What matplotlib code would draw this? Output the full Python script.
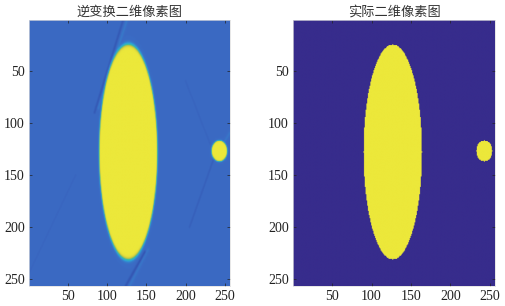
import numpy as np
import matplotlib
matplotlib.use("Agg")
import matplotlib.pyplot as plt
from matplotlib.colors import LinearSegmentedColormap

# phantom (pixel units, 256 x 256)
size = 256
ellipse_cx, ellipse_cy = 127, 128
ellipse_ax, ellipse_ay = 37, 103
circle_cx, circle_cy = 243, 127
circle_rx, circle_ry = 10, 10
obj_value = 1.0

# background levels
recon_bg = 0.16
true_bg = 0.0

# streak artifacts in the reconstruction: x0, y0, x1, y1, amplitude, width
streak_x0 = [121, 126, 124, 129, 236, 231, 248, 0]
streak_y0 = [0, 0, 256, 256, 134, 120, 120, 245]
streak_x1 = [84, 89, 148, 152, 205, 200, 256, 60]
streak_y1 = [90, 86, 224, 222, 200, 60, 110, 150]
streak_amp = [-0.04, 0.05, -0.05, 0.04, -0.025, -0.015, 0.04, -0.012]
streak_w = [1.5, 1.3, 1.5, 1.3, 1.3, 1.3, 1.3, 1.3]

titles = ["逆变换二维像素图", "实际二维像素图"]
ticks = [50, 100, 150, 200, 250]

# parula-like map, matched to the picture
cmap = LinearSegmentedColormap.from_list("parula_like", [
    (0.00, "#372c8c"),
    (0.08, "#2f4aa8"),
    (0.16, "#3b6bc4"),
    (0.35, "#2ba2d8"),
    (0.60, "#45be95"),
    (0.80, "#c5c143"),
    (1.00, "#ece83a"),
])

yy, xx = np.mgrid[1:size + 1, 1:size + 1].astype(float)


def shape(soft):
    r1 = np.sqrt(((xx - ellipse_cx) / ellipse_ax) ** 2 + ((yy - ellipse_cy) / ellipse_ay) ** 2)
    r2 = np.sqrt(((xx - circle_cx) / circle_rx) ** 2 + ((yy - circle_cy) / circle_ry) ** 2)
    if soft is None:
        return ((r1 <= 1) | (r2 <= 1)).astype(float)
    e1 = 1 / (1 + np.exp((r1 - 1) * ellipse_ax / soft))
    e2 = 1 / (1 + np.exp((r2 - 1) * circle_rx / soft))
    return np.clip(e1 + e2, 0, 1)


true_img = true_bg + (obj_value - true_bg) * shape(None)

mask = shape(0.35)
recon = recon_bg + (obj_value - recon_bg) * mask
# thin halo on the edge
r1 = np.sqrt(((xx - ellipse_cx) / ellipse_ax) ** 2 + ((yy - ellipse_cy) / ellipse_ay) ** 2)
recon += 0.07 * np.exp(-((r1 - 1.01) * ellipse_ax / 0.8) ** 2) * (1 - mask)
for x0, y0, x1, y1, a, w in zip(streak_x0, streak_y0, streak_x1, streak_y1, streak_amp, streak_w):
    dx, dy = x1 - x0, y1 - y0
    t = np.clip(((xx - x0) * dx + (yy - y0) * dy) / (dx * dx + dy * dy), 0, 1)
    d = np.hypot(xx - (x0 + t * dx), yy - (y0 + t * dy))
    recon += a * np.exp(-(d / w) ** 2) * (1 - mask)

fig = plt.figure(figsize=(5.05, 3.06), dpi=100)
ax1 = fig.add_axes([29 / 505, 1 - 286 / 306, 201 / 505, 266.5 / 306])
ax2 = fig.add_axes([293 / 505, 1 - 286 / 306, 202 / 505, 266.5 / 306])

for ax, img, title in zip([ax1, ax2], [recon, true_img], titles):
    ax.imshow(img, cmap=cmap, vmin=0, vmax=1, aspect="auto",
              extent=[0.5, size + 0.5, size + 0.5, 0.5], interpolation="bilinear")
    ax.set_title(title, fontsize=9.5, family=["Noto Sans CJK SC", "DejaVu Sans"],
                 color="#333333", pad=3)
    ax.set_xticks(ticks)
    ax.set_yticks(ticks)
    ax.tick_params(direction="in", length=2.5, width=0.5, top=True, right=True,
                   labelsize=10, colors="#222222", pad=3)
    for lab in ax.get_xticklabels() + ax.get_yticklabels():
        lab.set_family("Liberation Serif")
    for s in ax.spines.values():
        s.set_linewidth(0.5)
        s.set_color("#dddddd")

fig.savefig("out.png", dpi=100)
